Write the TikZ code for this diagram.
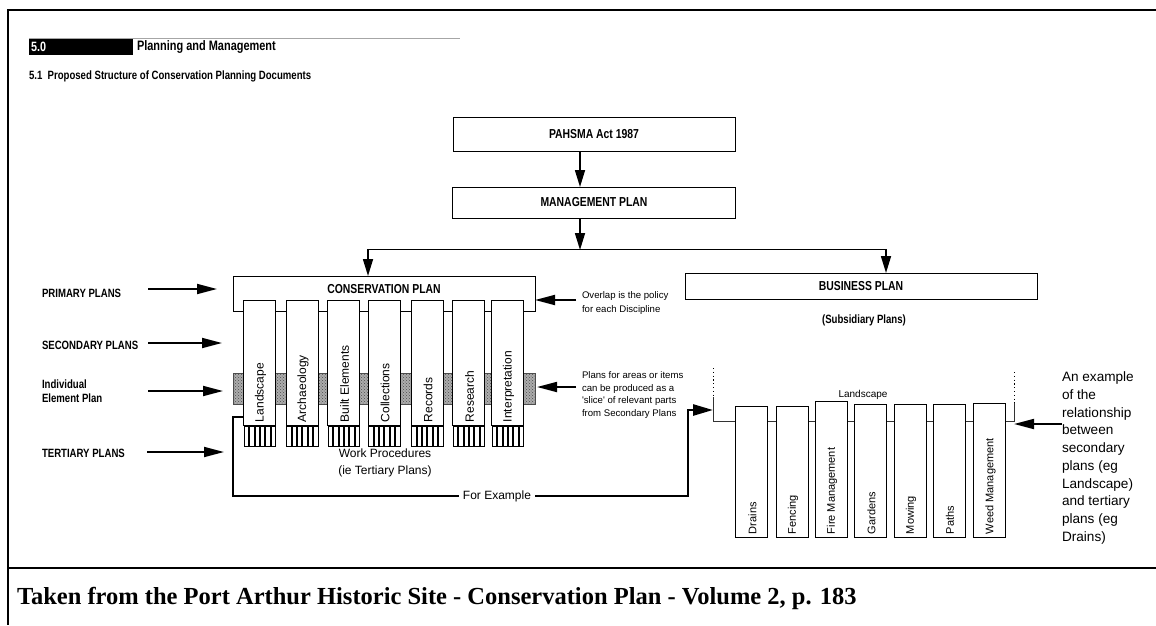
\documentclass[tikz,border=0pt]{standalone}
\usepackage{fontspec}
\setmainfont{Liberation Serif}
\newfontfamily\arial{Liberation Sans}
\newfontfamily\cond[FakeStretch=0.8]{Liberation Sans}
\usetikzlibrary{arrows.meta,patterns}
\newcommand{\fs}[2]{\fontsize{#1}{#2}\selectfont}
\begin{document}
\begin{tikzpicture}[x=1pt,y=-1pt,
  every node/.style={inner sep=0pt,outer sep=0pt},
  box/.style={draw,line width=0.9pt,fill=white},
  hd/.style={font=\cond\bfseries\fs{13}{15}},
  lbl/.style={font=\cond\bfseries\fs{12}{14},anchor=west,align=left},
  bigarr/.style={line width=1.8pt,-{Triangle[length=20pt,width=10pt]}},
  varr/.style={line width=1.6pt,-{Triangle[length=17pt,width=10pt]}},
  thickline/.style={line width=2.6pt},
  col/.style={draw,line width=0.8pt,fill=white,minimum width=32pt,anchor=north},
  bar/.style={draw,line width=0.6pt,fill=white},
  rot/.style={rotate=90,anchor=west},
  note/.style={anchor=north west,align=left},
  dots/.style={line width=1pt,dash pattern=on 1.2pt off 2.6pt},
  frame/.style={line width=2pt}
]
\useasboundingbox (0,0) rectangle (1156,625);

% frame
\draw[frame] (1156,10) -- (8,10) -- (8,625);
\draw[frame] (8,568) -- (1156,568);
\node[anchor=west,font=\bfseries\fs{24.5}{26}] (cap) at (17,598) {Taken from the Port Arthur Historic Site - Conservation Plan - Volume 2, p. 183};

% header
\draw[gray!70,line width=0.8pt] (29,38) -- (460,38);
\fill (29,39) rectangle (133,55);
\node[anchor=west,text=white,font=\cond\bfseries\fs{13.5}{15}] (h50) at (31,47) {5.0};
\node[anchor=west,font=\cond\bfseries\fs{13.7}{16}] (h1) at (137,47) {Planning and Management};
\node[anchor=west,font=\cond\bfseries\fs{12}{14}] (h2) at (29,76) {5.1\ \ Proposed Structure of Conservation Planning Documents};

% top boxes
\node[box,hd,minimum width=282pt,minimum height=34pt] (pahsma) at (594,134) {PAHSMA Act 1987};
\node[box,hd,minimum width=283pt,minimum height=31pt] (mgmt) at (594,202.5) {MANAGEMENT PLAN};
\draw[varr] ([xshift=-14pt]pahsma.south) -- ([xshift=-14pt]mgmt.north);
\coordinate (split) at (580,250);
\coordinate (lc) at (368,249);
\coordinate (rc) at (886,249);
\draw[varr] ([xshift=-14pt]mgmt.south) -- (split);
\draw[line width=0.9pt] (lc) -- (rc);

% conservation plan
\node[box,minimum width=302pt,minimum height=35pt] (cons) at (384,293.5) {};
\node[hd] (constext) at (384,289) {CONSERVATION PLAN};
\draw[varr] (lc) -- (lc |- cons.north);

% business plan
\node[box,hd,minimum width=352pt,minimum height=26pt] (bus) at (861,286) {BUSINESS PLAN};
\draw[varr] (rc) -- (rc |- bus.north);
\node[font=\cond\bfseries\fs{12}{14}] (subs) at (864,320) {(Subsidiary Plans)};

% element plan band
\fill[gray!65] (233,373) rectangle (535,404);
\fill[pattern=crosshatch dots,pattern color=black!70] (233,373) rectangle (535,404);
\draw[black!70,line width=0.6pt] (233,373) rectangle (535,404);

% secondary columns
\foreach \cx/\name [count=\i] in {259.5/Landscape,302/Archaeology,343.5/Built Elements,384/Collections,427/Records,468.5/Research,507.5/Interpretation}{
  \node[col,minimum height=125pt] (c\i) at (\cx,300) {};
  \node[rot,font=\arial\fs{12}{14}] (cl\i) at (\cx+1,422) {\name};
  \foreach \k in {0,...,5}{
    \draw[bar] (\cx-15.5+\k*5.4,426) rectangle +(4.4,20);
  }
}
\node[font=\arial\fs{12}{17},align=center] (wp) at (385,463) {Work Procedures\\(ie Tertiary Plans)};

% left labels and arrows
\node[lbl] (prim) at (42,293) {PRIMARY PLANS};
\node[lbl] (sec) at (42,345) {SECONDARY PLANS};
\node[lbl] (ind) at (42,391) {Individual\\Element Plan};
\node[lbl] (ter) at (42,453) {TERTIARY PLANS};
\coordinate (pa) at (148,289); \coordinate (pb) at (217,289);
\coordinate (sa) at (148,343); \coordinate (sb) at (222,343);
\coordinate (ia) at (148,391); \coordinate (ib) at (223,391);
\coordinate (ta) at (147,452); \coordinate (tb) at (224,452);
\draw[bigarr] (pa) -- (pb);
\draw[bigarr] (sa) -- (sb);
\draw[bigarr] (ia) -- (ib);
\draw[bigarr] (ta) -- (tb);

% right notes
\node[note,font=\arial\fs{9.6}{14}] (ov) at (582,292) {Overlap is the policy\\for each Discipline};
\coordinate (ova) at (576,300); \coordinate (ovb) at (535,300);
\draw[bigarr] (ova) -- (ovb);
\node[note,font=\arial\fs{9.6}{12.5}] (sl) at (582,372) {Plans for areas or items\\can be produced as a\\{\char"27}slice{\char"27} of relevant parts\\from Secondary Plans};
\coordinate (sla) at (576,387); \coordinate (slb) at (537,387);
\draw[bigarr] (sla) -- (slb);

% right landscape expansion
\coordinate (rl) at (713,410);
\coordinate (rr) at (1014,424);
\draw[dots] (713,368) -- (713,397);
\draw[dots] (1014,372) -- (1014,403);
\draw[line width=0.8pt,black!80] (713,397) -- (713,421) -- (1014,421) -- (1014,403);
\node[font=\arial\fs{10}{12}] (lst) at (863,395) {Landscape};
\foreach \cx/\t/\name [count=\i] in {751.5/406/Drains,792/406/Fencing,831/401/Fire Management,870.5/404/Gardens,910/404/Mowing,949/404/Paths,989.5/403/Weed Management}{
  \node[col,minimum height={537-\t}] (d\i) at (\cx,\t) {};
  \node[rot,font=\arial\fs{11}{13}] (dl\i) at (\cx+1,534) {\name};
}
\node[note,font=\arial\fs{13.6}{17.7}] (ex) at (1062,372) {An example\\of the\\relationship\\between\\secondary\\plans (eg\\Landscape)\\and tertiary\\plans (eg\\Drains)};
\coordinate (exa) at (1062,424);
\draw[bigarr] (exa) -- (rr);

% For example connector
\coordinate (ls) at (243.5,417);
\coordinate (lcorner) at (233,496);
\node[font=\arial\fs{12}{14}] (fe) at (497,496) {For Example};
\coordinate (rbend) at (688,410);
\draw[thickline] (ls) -| (lcorner) -- ([xshift=-4pt]fe.west);
\draw[thickline,-{Triangle[length=20pt,width=11pt]}] ([xshift=4pt]fe.east) -| (rbend) -- (rl);
\end{tikzpicture}
\end{document}
